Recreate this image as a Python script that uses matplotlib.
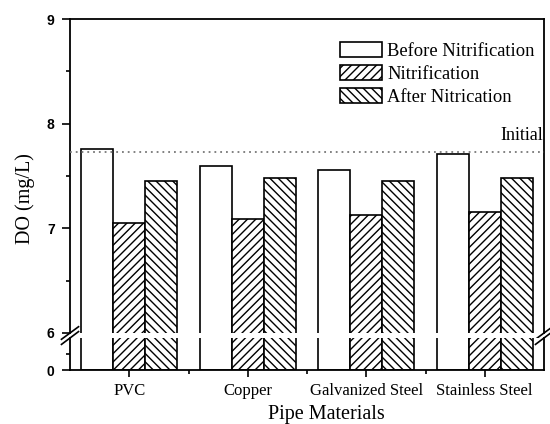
import matplotlib
matplotlib.use("Agg")
import matplotlib.pyplot as plt
import numpy as np

materials = ['PVC', 'Copper', 'Galvanized Steel', 'Stainless Steel']
before = [7.76, 7.60, 7.56, 7.71]
nitrif = [7.05, 7.09, 7.13, 7.16]
after = [7.45, 7.48, 7.45, 7.48]
initial = 7.73
series_names = ['Before Nitrification', 'Nitrification', 'After Nitrication']

plt.rcParams['hatch.linewidth'] = 1.0
SERIF = 'Liberation Serif'
SANS = 'Liberation Sans'

fig = plt.figure(figsize=(5.5, 4.24), dpi=100)
L, R = 70/550, 544/550
ax_top = fig.add_axes([L, 1-333/424, R-L, (333-19)/424])
ax_bot = fig.add_axes([L, 1-370/424, R-L, (370-338)/424], sharex=ax_top)

x = np.arange(1, len(materials)+1)
w = 0.27
hatches = [None, '////', '\\\\\\\\']
vals = [before, nitrif, after]
handles = []
for ax in (ax_top, ax_bot):
    for i, (v, h) in enumerate(zip(vals, hatches)):
        b = ax.bar(x + (i-1)*w, v, width=w, facecolor='white', edgecolor='black',
                   linewidth=1.2, hatch=h, zorder=2)
        if ax is ax_top:
            handles.append(b)

ax_top.axhline(initial, color='#777777', linestyle=(0, (1, 2.2)), linewidth=1.3, zorder=3)
ax_top.text(4.49, initial + 0.08, 'Initial', ha='right', va='bottom',
            fontfamily=SERIF, fontsize=13)

ax_top.set_ylim(6, 9)
ax_bot.set_ylim(0, 1)
ax_top.set_xlim(0.5, 4.5)

ax_top.set_yticks([6, 7, 8, 9])
ax_top.set_yticks([6.5, 7.5, 8.5], minor=True)
ax_bot.set_yticks([0])
ax_bot.set_yticks([0.5], minor=True)

for ax in (ax_top, ax_bot):
    for s in ax.spines.values():
        s.set_linewidth(1.3)
    ax.tick_params(axis='y', which='major', direction='out', length=6, width=1.2,
                   labelsize=10, pad=5)
    ax.tick_params(axis='y', which='minor', direction='out', length=3, width=1.2)
    for lab in ax.get_yticklabels():
        lab.set_fontfamily(SANS)
        lab.set_fontweight('bold')

ax_top.spines['bottom'].set_visible(False)
ax_bot.spines['top'].set_visible(False)
ax_top.tick_params(axis='x', which='both', bottom=False, labelbottom=False)

ax_bot.set_xticks(x)
ax_bot.set_xticks([1.5, 2.5, 3.5], minor=True)
ax_bot.set_xticklabels(materials, fontfamily=SERIF, fontsize=12)
ax_bot.tick_params(axis='x', which='major', direction='out', length=5, width=1.2)
ax_bot.tick_params(axis='x', which='minor', direction='out', length=3, width=1.2)
for lab in ax_bot.get_xticklabels():
    lab.set_verticalalignment('baseline')
ax_bot.tick_params(axis='x', which='major', pad=13)

# break marks
for xa in (0, 1):
    for ax, ya in ((ax_top, 0), (ax_bot, 1)):
        trans = ax.transAxes
        dx = 0.018
        dy = 0.02 if ax is ax_top else 0.2
        ax.plot([xa-dx, xa+dx], [ya-dy, ya+dy], transform=trans, color='black',
                linewidth=1.2, clip_on=False)

fig.text(0.045, 1-199/424, 'DO (mg/L)', rotation=90,
         ha='center', va='center', fontfamily=SERIF, fontsize=14.5)
fig.text(326/550, 1-419/424, 'Pipe Materials', ha='center', va='baseline',
         fontfamily=SERIF, fontsize=14.5)

leg = ax_top.legend(handles, series_names, loc='upper right', frameon=False,
                    prop={'family': SERIF, 'size': 13.3}, handlelength=2.27,
                    handleheight=0.92, handletextpad=0.3, labelspacing=0.26,
                    bbox_to_anchor=(1.004, 0.963), borderaxespad=0.2)

fig.savefig('out.png', dpi=100)
